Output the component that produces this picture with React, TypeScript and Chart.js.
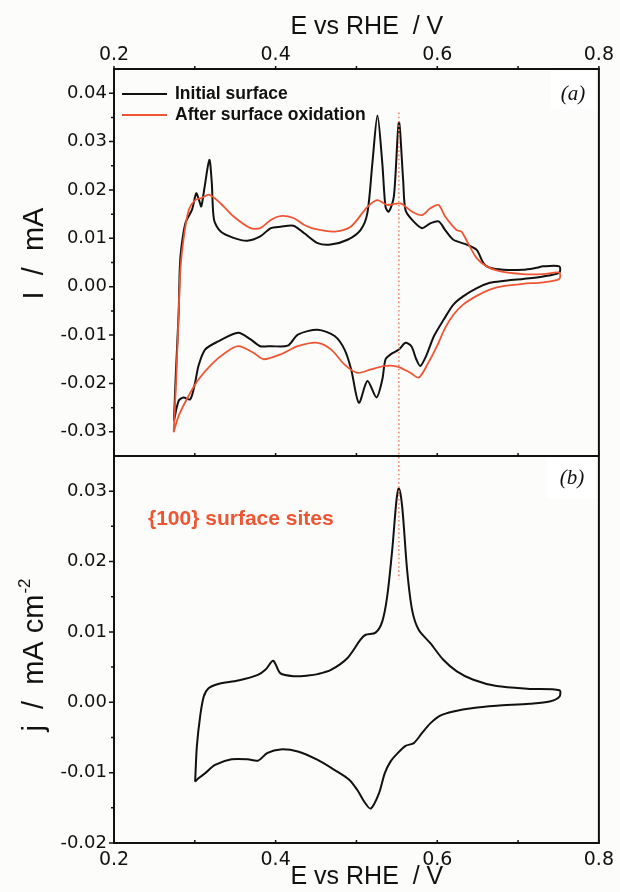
import React, { useEffect, useRef } from 'react';
import { Chart, registerables } from 'chart.js';

Chart.register(...registerables);

// ---------- data ----------
const seriesLabels = ['Initial surface', 'After surface oxidation'];

const initialE = [
  0.2742, 0.2765, 0.2800, 0.2815, 0.2835, 0.2885, 0.2967, 0.3017, 0.3050, 0.3080,
  0.3120, 0.3180, 0.3210, 0.3238, 0.3320, 0.3480, 0.3650, 0.3810, 0.3940, 0.4060,
  0.4220, 0.4350, 0.4520, 0.4680, 0.4890, 0.5050, 0.5135, 0.5197, 0.5260, 0.5320,
  0.5360, 0.5400, 0.5463, 0.5525, 0.5578, 0.5606, 0.5689, 0.5812, 0.5914, 0.6017,
  0.6098, 0.6200, 0.6365, 0.6488, 0.6570, 0.6650, 0.6816, 0.7060, 0.7225, 0.7310,
  0.7510,
  0.7510, 0.7310, 0.7060, 0.6816, 0.6650, 0.6490, 0.6320, 0.6200, 0.6080, 0.5960,
  0.5860, 0.5790, 0.5740, 0.5680, 0.5606, 0.5525, 0.5423, 0.5360, 0.5320, 0.5248,
  0.5136, 0.5030, 0.4935, 0.4853, 0.4730, 0.4520, 0.4275, 0.4150, 0.3940, 0.3810,
  0.3690, 0.3537, 0.3290, 0.3127, 0.3045, 0.3004, 0.2943, 0.2860, 0.2800, 0.2742,
];
const initialI = [
  -0.0277, -0.0180, -0.0054, 0.0042, 0.0083, 0.0132, 0.0160, 0.0193, 0.0180, 0.0166,
  0.0205, 0.0262, 0.0215, 0.0138, 0.0114, 0.0101, 0.0095, 0.0104, 0.0121, 0.0124,
  0.0126, 0.0111, 0.0090, 0.0087, 0.0097, 0.0117, 0.0152, 0.0255, 0.0354, 0.0255,
  0.0165, 0.0155, 0.0186, 0.0340, 0.0220, 0.0159, 0.0138, 0.0121, 0.0131, 0.0135,
  0.0117, 0.0097, 0.0087, 0.0076, 0.0049, 0.0039, 0.0035, 0.0035, 0.0039, 0.0042,
  0.0042,
  0.0029, 0.0021, 0.0016, 0.0012, 0.0008, -0.0003, -0.0020, -0.0037, -0.0068, -0.0102,
  -0.0144, -0.0164, -0.0150, -0.0123, -0.0116, -0.0130, -0.0140, -0.0150, -0.0192, -0.0229,
  -0.0195, -0.0240, -0.0171, -0.0130, -0.0102, -0.0089, -0.0099, -0.0122, -0.0123, -0.0123,
  -0.0109, -0.0095, -0.0113, -0.0130, -0.0164, -0.0198, -0.0233, -0.0229, -0.0236, -0.0277,
];

const oxidizedE = [
  0.2738, 0.2770, 0.2800, 0.2824, 0.2865, 0.2926, 0.3004, 0.3080, 0.3180, 0.3320,
  0.3480, 0.3690, 0.3810, 0.3940, 0.4060, 0.4220, 0.4350, 0.4470, 0.4730, 0.4930,
  0.5136, 0.5260, 0.5380, 0.5545, 0.5690, 0.5810, 0.5914, 0.6017, 0.6098, 0.6240,
  0.6300, 0.6380, 0.6488, 0.6610, 0.6770, 0.7060, 0.7310, 0.7510,
  0.7510, 0.7310, 0.7060, 0.6816, 0.6650, 0.6488, 0.6320, 0.6200, 0.6098, 0.5996,
  0.5890, 0.5771, 0.5668, 0.5505, 0.5340, 0.5177, 0.5013, 0.4853, 0.4689, 0.4520,
  0.4275, 0.4060, 0.3853, 0.3730, 0.3537, 0.3373, 0.3210, 0.3045, 0.2922, 0.2800,
  0.2738,
];
const oxidizedI = [
  -0.0301, -0.0190, -0.0054, 0.0042, 0.0104, 0.0159, 0.0179, 0.0183, 0.0190, 0.0172,
  0.0145, 0.0121, 0.0121, 0.0138, 0.0146, 0.0142, 0.0128, 0.0120, 0.0114, 0.0124,
  0.0165, 0.0179, 0.0169, 0.0172, 0.0155, 0.0148, 0.0162, 0.0169, 0.0145, 0.0117,
  0.0114, 0.0090, 0.0059, 0.0042, 0.0032, 0.0026, 0.0026, 0.0029,
  0.0016, 0.0009, 0.0006, 0.0001, -0.0006, -0.0019, -0.0037, -0.0058, -0.0085, -0.0123,
  -0.0157, -0.0188, -0.0178, -0.0165, -0.0164, -0.0171, -0.0178, -0.0161, -0.0130, -0.0116,
  -0.0123, -0.0140, -0.0150, -0.0137, -0.0123, -0.0137, -0.0160, -0.0192, -0.0226, -0.0267,
  -0.0301,
];

const sitesE = [
  0.3004, 0.3025, 0.3066, 0.3110, 0.3170, 0.3290, 0.3537, 0.3780, 0.3880, 0.3970,
  0.4060, 0.4230, 0.4400, 0.4520, 0.4684, 0.4890, 0.5050, 0.5114, 0.5237, 0.5320,
  0.5380, 0.5443, 0.5496, 0.5525, 0.5566, 0.5627, 0.5689, 0.5770, 0.5914, 0.6078,
  0.6242, 0.6447, 0.6734, 0.7143, 0.7512,
  0.7512, 0.7390, 0.7143, 0.6734, 0.6447, 0.6200, 0.6037, 0.5914, 0.5810, 0.5710,
  0.5607, 0.5505, 0.5423, 0.5350, 0.5280, 0.5177, 0.5095, 0.5013, 0.4910, 0.4726,
  0.4520, 0.4275, 0.4060, 0.3900, 0.3780, 0.3656, 0.3455, 0.3250, 0.3127, 0.3045,
  0.3004,
];
const sitesJ = [
  -0.0113, -0.0063, -0.0020, 0.0008, 0.0020, 0.0026, 0.0031, 0.0039, 0.0047, 0.0059,
  0.0041, 0.0037, 0.0038, 0.0040, 0.0046, 0.0063, 0.0089, 0.0096, 0.0099, 0.0115,
  0.0150, 0.0217, 0.0288, 0.0304, 0.0278, 0.0188, 0.0131, 0.0103, 0.0084, 0.0060,
  0.0044, 0.0032, 0.0023, 0.0019, 0.0017,
  0.0008, 0.0001, -0.0002, -0.0005, -0.0008, -0.0013, -0.0019, -0.0030, -0.0044, -0.0058,
  -0.0062, -0.0073, -0.0084, -0.0101, -0.0129, -0.0151, -0.0141, -0.0125, -0.0110, -0.0096,
  -0.0082, -0.0070, -0.0067, -0.0072, -0.0083, -0.0081, -0.0081, -0.0089, -0.0101, -0.0108,
  -0.0113,
];

const xTickValues = [0.2, 0.3, 0.4, 0.5, 0.6, 0.7, 0.8];
const xLabelValues = [0.2, 0.4, 0.6, 0.8];
const yaTickValues = [-0.03, -0.02, -0.01, 0, 0.01, 0.02, 0.03, 0.04];
const ybTickValues = [-0.02, -0.01, 0, 0.01, 0.02, 0.03];
const markerE = 0.5525;
const markerTopI = 0.036;
const markerBottomJ = 0.0175;

const xTitle = '   E vs RHE  / V';
const yTitleA = 'I  /  mA';
const yTitleB = 'j  /  mA cm';
const yTitleBSup = '-2';
const sitesText = '{100} surface sites';
const panelA = '(a)';
const panelB = '(b)';

// ---------- style ----------
const BLACK = '#111111';
const RED = '#ee5533';
const MARK = '#f08a6e';
const BG = '#fcfcfa';
const TENSION = 0.28;

const overlayPlugin = {
  id: 'overlay',
  afterDatasetsDraw(chart: any) {
    const { ctx, chartArea: ca, scales } = chart;
    const xs = scales.x;
    const ya = scales.ya;
    const yb = scales.yb;
    const mid = ya.bottom;
    ctx.save();

    // white label boxes
    ctx.fillStyle = '#ffffff';
    ctx.fillRect(ca.right - 48, ca.top + 2, 46, 38);
    ctx.fillRect(ca.right - 52, mid + 2, 50, 40);

    // dotted marker line
    const mx = xs.getPixelForValue(markerE);
    ctx.strokeStyle = MARK;
    ctx.lineWidth = 1.6;
    ctx.setLineDash([1.6, 2.6]);
    ctx.beginPath();
    ctx.moveTo(mx, ya.getPixelForValue(markerTopI));
    ctx.lineTo(mx, yb.getPixelForValue(markerBottomJ));
    ctx.stroke();
    ctx.setLineDash([]);

    // frame
    ctx.strokeStyle = BLACK;
    ctx.lineWidth = 2;
    ctx.strokeRect(ca.left, ca.top, ca.right - ca.left, ca.bottom - ca.top);
    ctx.beginPath();
    ctx.moveTo(ca.left, mid);
    ctx.lineTo(ca.right, mid);
    ctx.stroke();

    // ticks
    ctx.lineWidth = 1.5;
    ctx.beginPath();
    for (const v of xTickValues) {
      const px = xs.getPixelForValue(v);
      ctx.moveTo(px, ca.top); ctx.lineTo(px, ca.top - 3);
      ctx.moveTo(px, mid); ctx.lineTo(px, mid - 3);
      ctx.moveTo(px, ca.bottom); ctx.lineTo(px, ca.bottom - 3);
    }
    const pairs: [any, number[]][] = [[ya, yaTickValues], [yb, ybTickValues]];
    for (const [scale, vals] of pairs) {
      vals.forEach((v, i) => {
        const py = scale.getPixelForValue(v);
        ctx.moveTo(ca.left, py); ctx.lineTo(ca.left - 5, py);
        if (i < vals.length - 1) {
          const pm = scale.getPixelForValue((v + vals[i + 1]) / 2);
          ctx.moveTo(ca.left, pm); ctx.lineTo(ca.left - 3, pm);
        }
      });
    }
    ctx.stroke();

    // legend
    const rows = [ca.top + 25, ca.top + 46];
    const cols = [BLACK, RED];
    ctx.lineWidth = 2;
    rows.forEach((ry, i) => {
      ctx.strokeStyle = cols[i];
      ctx.beginPath();
      ctx.moveTo(ca.left + 8, ry);
      ctx.lineTo(ca.left + 53, ry);
      ctx.stroke();
    });
    ctx.fillStyle = BLACK;
    ctx.font = 'bold 17.5px "Liberation Sans"';
    ctx.textBaseline = 'middle';
    ctx.textAlign = 'left';
    rows.forEach((ry, i) => ctx.fillText(seriesLabels[i], ca.left + 61, ry));

    // panel letters
    ctx.font = 'italic 21px "Liberation Serif"';
    ctx.textAlign = 'center';
    ctx.fillText(panelA, ca.right - 26, ca.top + 25);
    ctx.fillText(panelB, ca.right - 27, mid + 22);

    // sites text
    ctx.fillStyle = RED;
    ctx.font = 'bold 21px "Liberation Sans"';
    ctx.textAlign = 'left';
    ctx.fillText(sitesText, ca.left + 34, mid + 63);

    // y titles
    ctx.fillStyle = BLACK;
    ctx.font = '29px "Liberation Sans"';
    ctx.textBaseline = 'alphabetic';
    ctx.save();
    ctx.translate(43, (ya.top + ya.bottom) / 2 - 9);
    ctx.rotate(-Math.PI / 2);
    ctx.textAlign = 'center';
    ctx.fillText(yTitleA, 0, 0);
    ctx.restore();

    ctx.save();
    ctx.translate(43, (yb.top + yb.bottom) / 2 + 6);
    ctx.rotate(-Math.PI / 2);
    ctx.textAlign = 'left';
    ctx.font = '29px "Liberation Sans"';
    const wMain = ctx.measureText(yTitleB).width;
    ctx.font = '17px "Liberation Sans"';
    const wSup = ctx.measureText(yTitleBSup).width;
    const start = -(wMain + wSup) / 2;
    ctx.font = '29px "Liberation Sans"';
    ctx.fillText(yTitleB, start, 0);
    ctx.font = '17px "Liberation Sans"';
    ctx.fillText(yTitleBSup, start + wMain + 1, -13);
    ctx.restore();

    ctx.restore();
  },
};

const toPoints = (xs: number[], ys: number[]) => xs.map((x, i) => ({ x, y: ys[i] }));

export default function App() {
  const ref = useRef<HTMLCanvasElement>(null);
  useEffect(() => {
    document.body.style.margin = '0';
    document.body.style.background = BG;
    const xTickFont = { family: 'DejaVu Sans', size: 19 };
    const yTickFont = { family: 'DejaVu Sans', size: 18 };
    const chart = new Chart(ref.current as HTMLCanvasElement, {
      type: 'scatter',
      data: {
        datasets: [
          {
            label: seriesLabels[1],
            data: toPoints(oxidizedE, oxidizedI),
            xAxisID: 'x2',
            yAxisID: 'ya',
            borderColor: RED,
            borderWidth: 1.8,
            showLine: true,
            pointRadius: 0,
            tension: TENSION,
          },
          {
            label: seriesLabels[0],
            data: toPoints(initialE, initialI),
            xAxisID: 'x2',
            yAxisID: 'ya',
            borderColor: BLACK,
            borderWidth: 2,
            showLine: true,
            pointRadius: 0,
            tension: TENSION,
          },
          {
            label: sitesText,
            data: toPoints(sitesE, sitesJ),
            xAxisID: 'x',
            yAxisID: 'yb',
            borderColor: BLACK,
            borderWidth: 2,
            showLine: true,
            pointRadius: 0,
            tension: TENSION,
          },
        ],
      } as any,
      options: {
        responsive: false,
        animation: false,
        events: [],
        layout: { padding: { left: 0, right: 17, top: 0, bottom: 0 } },
        plugins: { legend: { display: false }, tooltip: { enabled: false } },
        scales: {
          x: {
            type: 'linear',
            position: 'bottom',
            min: 0.2,
            max: 0.8,
            afterBuildTicks: (s: any) => { s.ticks = xLabelValues.map((v) => ({ value: v })); },
            afterFit: (s: any) => { s.height = 49; },
            ticks: { font: xTickFont, color: BLACK, padding: 6, maxRotation: 0, autoSkip: false, callback: (v: any) => Number(v).toFixed(1) },
            grid: { display: false, drawTicks: false },
            border: { display: false },
            title: { display: true, text: xTitle, color: BLACK, font: { family: 'Liberation Sans', size: 25 }, padding: { top: 0, bottom: 0 } },
          },
          x2: {
            type: 'linear',
            position: 'top',
            min: 0.2,
            max: 0.8,
            afterBuildTicks: (s: any) => { s.ticks = xLabelValues.map((v) => ({ value: v })); },
            afterFit: (s: any) => { s.height = 69; },
            ticks: { font: xTickFont, color: BLACK, padding: 3, maxRotation: 0, autoSkip: false, callback: (v: any) => Number(v).toFixed(1) },
            grid: { display: false, drawTicks: false },
            border: { display: false },
            title: { display: true, text: xTitle, color: BLACK, font: { family: 'Liberation Sans', size: 25 }, padding: { top: 12, bottom: 0 } },
          },
          ya: {
            type: 'linear',
            position: 'left',
            stack: 'panels',
            stackWeight: 1,
            weight: 2,
            min: -0.035,
            max: 0.045,
            afterBuildTicks: (s: any) => { s.ticks = yaTickValues.map((v) => ({ value: v })); },
            afterFit: (s: any) => { s.width = 114; },
            ticks: { font: yTickFont, color: BLACK, padding: 7, autoSkip: false, callback: (v: any) => Number(v).toFixed(2) },
            grid: { display: false, drawTicks: false },
            border: { display: false },
          },
          yb: {
            type: 'linear',
            position: 'left',
            stack: 'panels',
            stackWeight: 1,
            weight: 1,
            min: -0.02,
            max: 0.035,
            afterBuildTicks: (s: any) => { s.ticks = ybTickValues.map((v) => ({ value: v })); },
            afterFit: (s: any) => { s.width = 114; },
            ticks: { font: yTickFont, color: BLACK, padding: 7, autoSkip: false, callback: (v: any) => Number(v).toFixed(2) },
            grid: { display: false, drawTicks: false },
            border: { display: false },
          },
        },
      } as any,
      plugins: [overlayPlugin],
    });
    return () => chart.destroy();
  }, []);
  return (
    <div style={{ width: 620, height: 892, background: BG }}>
      <canvas ref={ref} width={620} height={892} style={{ display: 'block' }} />
    </div>
  );
}
